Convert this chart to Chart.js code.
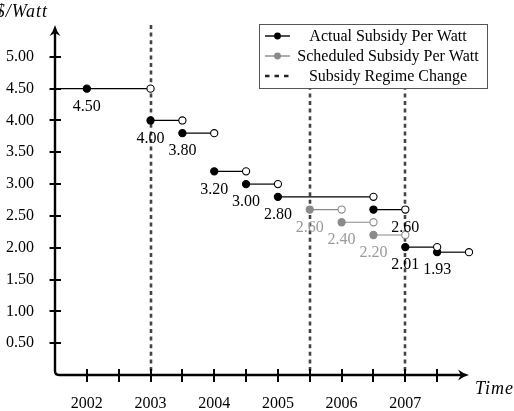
<!DOCTYPE html>
<html>
<head>
<meta charset="utf-8">
<script src="https://cdn.jsdelivr.net/npm/chart.js@4.4.1/dist/chart.umd.min.js"></script>
<style>
html, body { margin: 0; padding: 0; background: #fff; }
#wrap { width: 514px; height: 411px; }
</style>
</head>
<body>
<div id="wrap"><canvas id="subsidyChart" width="514" height="411"></canvas></div>
<script>
// Subsidy steps
var actualValues = [4.50, 4.00, 3.80, 3.20, 3.00, 2.80, 2.60, 2.01, 1.93];
var actualStarts = [2002, 2003, 2003.5, 2004, 2004.5, 2005, 2006.5, 2007, 2007.5];
var actualEnds   = [2003, 2003.5, 2004, 2004.5, 2005, 2006.5, 2007, 2007.5, 2008];

var scheduledValues = [2.60, 2.40, 2.20];
var scheduledStarts = [2005.5, 2006, 2006.5];
var scheduledEnds   = [2006, 2006.5, 2007];

var regimeChanges = [2003, 2005.5, 2007];

var yearLabels = [2002, 2003, 2004, 2005, 2006, 2007];
var halfYearTicks = [2002, 2002.5, 2003, 2003.5, 2004, 2004.5, 2005, 2005.5, 2006, 2006.5, 2007, 2007.5];
var priceTicks = [0.5, 1.0, 1.5, 2.0, 2.5, 3.0, 3.5, 4.0, 4.5, 5.0];
var legendLabels = ['Actual Subsidy Per Watt', 'Scheduled Subsidy Per Watt', 'Subsidy Regime Change'];

var X_MIN = 2001.5, X_MAX = 2008, Y_MIN = 0, Y_MAX = 5.5;
var ACTUAL_COLOR = '#000000';
var SCHEDULED_COLOR = '#8a8a8a';
var SCHEDULED_TEXT = '#9a9a9a';
var SERIF = '"Liberation Serif", "DejaVu Serif", serif';

// value labels that sit under the open end instead of the filled start
var labelAtEnd = { actual: [6], scheduled: [] };

function stepDatasets(values, starts, ends, color, series) {
    return values.map(function(v, i) {
        var pts = [{x: starts[i], y: v}, {x: ends[i], y: v}];
        var radius = [3.6, 3.6];
        var fill = [color, '#ffffff'];
        // first step runs in from the axis
        if (series === 'actual' && i === 0) {
            pts.unshift({x: X_MIN, y: v});
            radius.unshift(0);
            fill.unshift(color);
        }
        return {
            data: pts,
            series: series,
            stepIndex: i,
            showLine: true,
            borderColor: color,
            borderWidth: 1.2,
            pointRadius: radius,
            pointHoverRadius: radius,
            pointBackgroundColor: fill,
            pointBorderColor: color,
            pointBorderWidth: 1.1,
            clip: false
        };
    });
}

var datasets = stepDatasets(actualValues, actualStarts, actualEnds, ACTUAL_COLOR, 'actual')
    .concat(stepDatasets(scheduledValues, scheduledStarts, scheduledEnds, SCHEDULED_COLOR, 'scheduled'));

// dashed regime-change lines, under the steps
var regimePlugin = {
    id: 'regimeLines',
    beforeDatasetsDraw: function(chart) {
        var ctx = chart.ctx, ca = chart.chartArea, xs = chart.scales.x;
        ctx.save();
        ctx.strokeStyle = '#444';
        ctx.lineWidth = 2.6;
        ctx.setLineDash([4, 3.6]);
        regimeChanges.forEach(function(t) {
            var x = Math.round(xs.getPixelForValue(t));
            ctx.beginPath();
            ctx.moveTo(x, ca.top);
            ctx.lineTo(x, ca.bottom);
            ctx.stroke();
        });
        ctx.restore();
    }
};

// numbers under each step
var valueLabelPlugin = {
    id: 'valueLabels',
    afterDatasetsDraw: function(chart) {
        var ctx = chart.ctx;
        ctx.save();
        ctx.font = '16px ' + SERIF;
        ctx.textAlign = 'center';
        ctx.textBaseline = 'middle';
        chart.data.datasets.forEach(function(ds, di) {
            var meta = chart.getDatasetMeta(di);
            var n = meta.data.length;
            var atEnd = labelAtEnd[ds.series].indexOf(ds.stepIndex) !== -1;
            var pt = atEnd ? meta.data[n - 1] : meta.data[n - 2];
            ctx.fillStyle = ds.series === 'actual' ? '#000' : SCHEDULED_TEXT;
            ctx.fillText(ds.data[n - 2].y.toFixed(2), pt.x, pt.y + 18);
        });
        ctx.restore();
    }
};

function arrowHead(ctx, x, y, dir) {
    // dir: 'up' or 'right'
    ctx.save();
    ctx.translate(x, y);
    if (dir === 'right') ctx.rotate(Math.PI / 2);
    ctx.beginPath();
    ctx.moveTo(0, 0);
    ctx.quadraticCurveTo(1.5, 6, 5.5, 11);
    ctx.quadraticCurveTo(0, 8, 0, 8);
    ctx.quadraticCurveTo(0, 8, -5.5, 11);
    ctx.quadraticCurveTo(-1.5, 6, 0, 0);
    ctx.closePath();
    ctx.fill();
    ctx.restore();
}

// axes with arrows, crossing tick marks, axis titles and the boxed legend
var framePlugin = {
    id: 'frame',
    afterDraw: function(chart) {
        var ctx = chart.ctx, ca = chart.chartArea;
        var xs = chart.scales.x, ys = chart.scales.y;
        var x0 = ca.left, y0 = ca.bottom;
        ctx.save();
        ctx.strokeStyle = '#000';
        ctx.fillStyle = '#000';
        ctx.lineWidth = 2.4;
        ctx.beginPath();
        ctx.moveTo(x0, ca.top + 6);
        ctx.lineTo(x0, y0 - 4);
        ctx.quadraticCurveTo(x0, y0, x0 + 4, y0);
        ctx.lineTo(ca.right - 6, y0);
        ctx.stroke();
        arrowHead(ctx, x0, ca.top, 'up');
        arrowHead(ctx, ca.right, y0, 'right');

        ctx.lineWidth = 2;
        priceTicks.forEach(function(v) {
            var y = Math.round(ys.getPixelForValue(v));
            ctx.beginPath();
            ctx.moveTo(x0 - 5.5, y);
            ctx.lineTo(x0 + 6, y);
            ctx.stroke();
        });
        halfYearTicks.forEach(function(t) {
            var x = Math.round(xs.getPixelForValue(t));
            ctx.beginPath();
            ctx.moveTo(x, y0 - 6);
            ctx.lineTo(x, y0 + 7);
            ctx.stroke();
        });

        ctx.font = 'italic 18px ' + SERIF;
        ctx.textBaseline = 'middle';
        ctx.textAlign = 'right';
        ctx.letterSpacing = '1px';
        ctx.fillText('$/Watt', 48, 12);
        ctx.textAlign = 'left';
        ctx.fillText('Time', 475, 389);
        ctx.letterSpacing = '0px';

        // legend
        var bx = 259.5, by = 24.5, bw = 228, bh = 64;
        ctx.fillStyle = '#fff';
        ctx.fillRect(bx, by, bw, bh);
        ctx.lineWidth = 1;
        ctx.strokeStyle = '#555';
        ctx.strokeRect(bx, by, bw, bh);

        var rows = [36, 56, 76];
        var colors = [ACTUAL_COLOR, SCHEDULED_COLOR];
        ctx.font = '16px ' + SERIF;
        ctx.textAlign = 'center';
        legendLabels.forEach(function(label, i) {
            var y = rows[i];
            ctx.save();
            if (i < 2) {
                ctx.strokeStyle = colors[i];
                ctx.fillStyle = colors[i];
                ctx.lineWidth = 1.4;
                ctx.beginPath();
                ctx.moveTo(265, y);
                ctx.lineTo(290, y);
                ctx.stroke();
                ctx.beginPath();
                ctx.arc(277.5, y, 3.4, 0, Math.PI * 2);
                ctx.fill();
            } else {
                ctx.strokeStyle = '#222';
                ctx.lineWidth = 2.4;
                ctx.setLineDash([4.5, 5]);
                ctx.beginPath();
                ctx.moveTo(265, y);
                ctx.lineTo(292, y);
                ctx.stroke();
            }
            ctx.restore();
            ctx.fillStyle = '#000';
            ctx.fillText(label, 388, y + 1);
        });
        ctx.restore();
    }
};

// drop the label overhang padding so the plot area is exactly where the layout puts it
function noScalePadding(s) {
    s.paddingTop = 0;
    s.paddingBottom = 0;
    s.paddingLeft = 0;
    s.paddingRight = 0;
}

document.addEventListener('DOMContentLoaded', function() {
    Chart.defaults.font.family = SERIF;
    Chart.defaults.font.size = 16;
    Chart.defaults.color = '#000';

    var ctx = document.getElementById('subsidyChart');
    new Chart(ctx, {
        type: 'scatter',
        data: { datasets: datasets },
        options: {
            responsive: false,
            animation: false,
            layout: { padding: { top: 25, right: 45, left: 0, bottom: 0 } },
            plugins: {
                legend: { display: false },
                tooltip: { enabled: false }
            },
            scales: {
                x: {
                    type: 'linear',
                    min: X_MIN,
                    max: X_MAX,
                    grid: { display: false, drawTicks: false },
                    border: { display: false },
                    afterBuildTicks: function(s) {
                        s.ticks = yearLabels.map(function(v) { return { value: v }; });
                    },
                    afterFit: function(s) { s.height = 36; noScalePadding(s); },
                    ticks: {
                        padding: 19,
                        autoSkip: false,
                        maxRotation: 0,
                        callback: function(v) { return String(v); }
                    }
                },
                y: {
                    min: Y_MIN,
                    max: Y_MAX,
                    grid: { display: false, drawTicks: false },
                    border: { display: false },
                    afterBuildTicks: function(s) {
                        s.ticks = priceTicks.map(function(v) { return { value: v }; });
                    },
                    afterFit: function(s) { s.width = 55; noScalePadding(s); },
                    ticks: {
                        padding: 21,
                        callback: function(v) { return Number(v).toFixed(2); }
                    }
                }
            }
        },
        plugins: [regimePlugin, valueLabelPlugin, framePlugin]
    });
});
</script>
</body>
</html>
